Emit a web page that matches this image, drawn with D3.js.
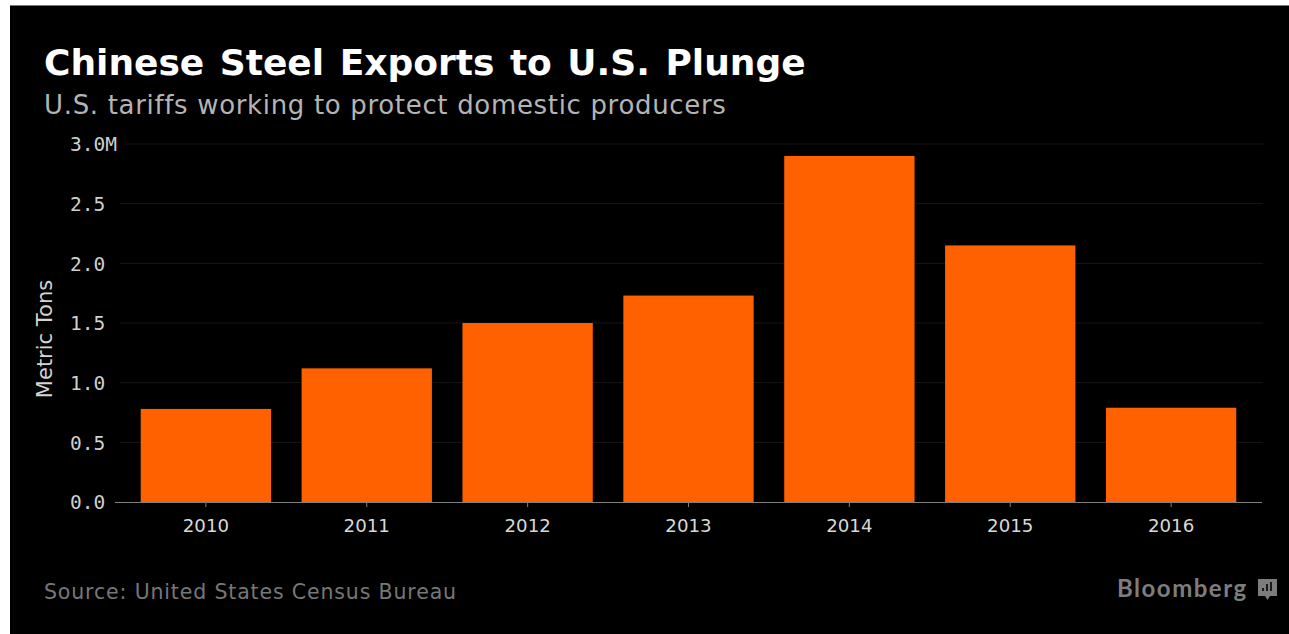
<!DOCTYPE html>
<html>
<head>
<meta charset="utf-8">
<script src="https://cdn.jsdelivr.net/npm/d3@7/dist/d3.min.js"></script>
<style>
html,body{margin:0;padding:0;background:#fff;overflow:hidden}
svg{display:block}
text{font-family:"DejaVu Sans",sans-serif}
</style>
</head>
<body>
<svg id="chart" width="1289" height="634"></svg>
<script>
const years = ["2010","2011","2012","2013","2014","2015","2016"];
const exportsMillions = [0.78,1.12,1.50,1.73,2.90,2.15,0.79];
const yTicks = [0,0.5,1,1.5,2,2.5,3];
const titleText = "Chinese Steel Exports to U.S. Plunge";
const subtitleText = "U.S. tariffs working to protect domestic producers";
const yAxisTitle = "Metric Tons";
const sourceText = "Source: United States Census Bureau";
const brandText = "Bloomberg";

const svg = d3.select("#chart");
const plotLeft = 115, plotRight = 1262, plotTop = 144, plotBottom = 502;

// black panel with a thin grey top edge
svg.append("rect").attr("x",10).attr("y",5).attr("width",1279).attr("height",629).attr("fill","#000");
svg.append("line").attr("x1",10).attr("x2",1289).attr("y1",5.5).attr("y2",5.5).attr("stroke","#777");

const x = d3.scaleBand().domain(years).range([plotLeft,plotRight]).paddingInner(0.19).paddingOuter(0.16);
const y = d3.scaleLinear().domain([0,3]).range([plotBottom,plotTop]);

// horizontal gridlines, very faint against the black panel
svg.append("g").selectAll("line").data(yTicks.filter(d=>d>0)).join("line")
  .attr("x1",d=>d===3?125:plotLeft+5).attr("x2",plotRight+1)
  .attr("y1",d=>y(d)).attr("y2",d=>y(d))
  .attr("stroke","#171717").attr("stroke-width",1);

// bars
svg.append("g").selectAll("rect").data(years).join("rect")
  .attr("x",d=>x(d)).attr("width",x.bandwidth())
  .attr("y",(d,i)=>y(exportsMillions[i]))
  .attr("height",(d,i)=>plotBottom-y(exportsMillions[i]))
  .attr("fill","#ff6100");

// y axis labels
const yAxis = d3.axisLeft(y).tickValues(yTicks)
  .tickFormat(d=>d===3?"3.0M":d3.format(".1f")(d)).tickSize(0).tickPadding(0);
const yG = svg.append("g").attr("transform","translate(105,0)").call(yAxis);
yG.select(".domain").remove();
yG.selectAll("text")
  .attr("text-anchor","start").attr("x",-35).attr("y",0)
  .attr("dy","0.35em")
  .style("font-family",'"DejaVu Sans Mono",monospace')
  .style("font-size","19.5px").attr("fill","#cfcfcf");

// x axis with short ticks
const xAxis = d3.axisBottom(x).tickSize(5).tickPadding(12);
const xG = svg.append("g").attr("transform",`translate(0,${plotBottom})`).call(xAxis);
xG.select(".domain").attr("stroke","#808080").attr("d",`M${plotLeft},0.5H${plotRight}`);
xG.selectAll(".tick line").attr("stroke","#808080");
xG.selectAll("text")
  .style("font-family",'"DejaVu Sans",sans-serif')
  .style("font-size","18.2px").attr("fill","#d8d8d8");

// heading block
svg.append("text").attr("x",44).attr("y",75).text(titleText)
  .attr("fill","#fff").attr("font-weight","700").style("font-size","36px").style("word-spacing","3px");
svg.append("text").attr("x",44).attr("y",114).text(subtitleText)
  .attr("fill","#b4b4b4").style("font-size","26px").style("letter-spacing","0.67px");

// rotated axis title
svg.append("text").attr("transform","translate(52,339) rotate(-90)")
  .attr("text-anchor","middle").text(yAxisTitle)
  .attr("fill","#d4d4d4").style("font-size","21px");

// footer
svg.append("text").attr("x",44).attr("y",599).text(sourceText)
  .attr("fill","#777").style("font-size","20.5px").style("letter-spacing","0.85px");
svg.append("text").attr("x",1117).attr("y",597).text(brandText)
  .attr("fill","#7d7d7d").attr("font-weight","700")
  .style("font-family",'Lato,sans-serif').style("font-size","24px").style("letter-spacing","1.5px");

// brand mark: speech bubble holding a small bar glyph
const mark = svg.append("g").attr("transform","translate(1258,579)");
mark.append("path").attr("d","M0,0H19V17H12L9.5,21L7,17H0Z").attr("fill","#7d7d7d");
mark.selectAll("rect").data([[4,9,3],[8,5,7],[12,3,9]]).join("rect")
  .attr("x",d=>d[0]).attr("y",d=>d[1]).attr("width",2).attr("height",d=>d[2]).attr("fill","#1a1a1a");
</script>
</body>
</html>
